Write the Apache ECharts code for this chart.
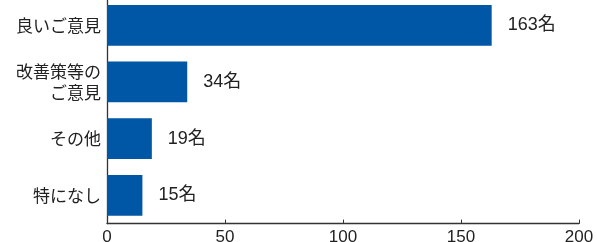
<!DOCTYPE html>
<html><head><meta charset="utf-8">
<script src="https://cdn.jsdelivr.net/npm/echarts@6/dist/echarts.min.js"></script>
<style>html,body{margin:0;padding:0;background:#fff}#c{width:597px;height:242px}</style>
</head><body><div id="c"></div>
<script>
const categories = ['良いご意見', '改善策等の\nご意見', 'その他', '特になし'];
const values = [163, 34, 19, 15];
const xTicks = [0, 50, 100, 150, 200];

const chart = echarts.init(document.getElementById('c'), null, {renderer: 'canvas'});
chart.setOption({
  animation: false,
  grid: {left: 107, width: 472, top: -3, height: 226.6, containLabel: false, outerBoundsMode: 'none'},
  xAxis: {
    type: 'value', min: xTicks[0], max: xTicks[xTicks.length - 1], interval: 50,
    axisLine: {show: true, lineStyle: {color: '#333', width: 1.3}},
    axisTick: {show: true, inside: true, length: 4, lineStyle: {color: '#333', width: 1}},
    splitLine: {show: false},
    axisLabel: {color: '#222', fontSize: 17, fontFamily: 'Liberation Sans, Arial, sans-serif', margin: 5}
  },
  yAxis: {
    type: 'category', data: categories, inverse: true,
    axisLine: {show: true, lineStyle: {color: '#333', width: 1.3}},
    axisTick: {show: false},
    axisLabel: {color: '#222', fontSize: 17, lineHeight: 21, margin: 6,
      fontFamily: 'Noto Sans CJK JP, sans-serif'}
  },
  series: [{
    type: 'bar', data: values, barCategoryGap: '28%',
    itemStyle: {color: '#0057a6'},
    label: {show: true, position: 'right', distance: 16, formatter: '{c}名',
      color: '#222', fontSize: 18, fontFamily: 'Liberation Sans, Noto Sans CJK JP, sans-serif'}
  }]
});
</script></body></html>
